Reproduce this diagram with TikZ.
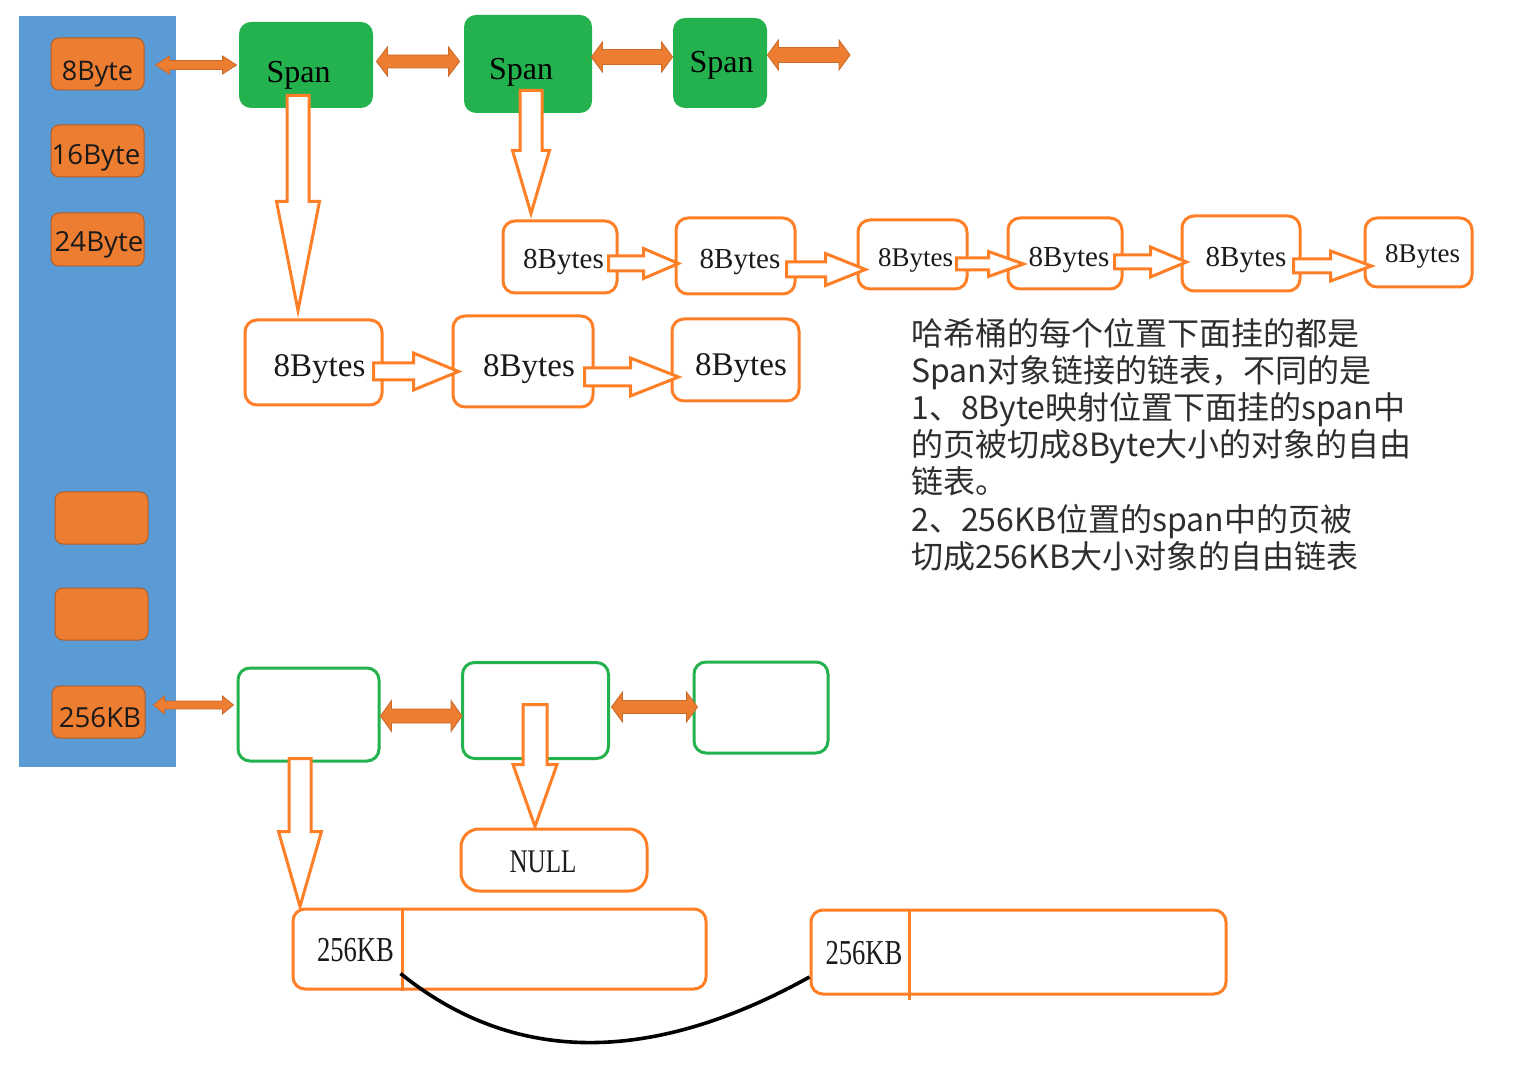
\documentclass[tikz,border=0pt]{standalone}
\usepackage{fontspec}
\setmainfont{Liberation Serif}
\newfontfamily\cjk{Noto Sans CJK SC}
\newfontfamily\keyfont{Open Sans}
\newfontfamily\condserif[FakeStretch=0.76]{Liberation Serif}
\usetikzlibrary{calc}
\newcommand\fsz[1]{\fontsize{#1}{#1}\selectfont}
\definecolor{hblue}{HTML}{5B9BD5}
\definecolor{korange}{HTML}{ED7D31}
\definecolor{lorange}{HTML}{FF7F27}
\definecolor{sgreen}{HTML}{24B24E}
\definecolor{ink}{HTML}{1A1A1A}
\definecolor{para}{HTML}{2E2E2E}
\tikzset{
  keybox/.style={fill=korange, draw=korange!75!black, line width=0.5pt, rounded corners=4pt, minimum width=46.5pt, minimum height=26pt, inner sep=0pt},
  spanbox/.style={fill=sgreen, rounded corners=6pt, inner sep=0pt},
  objbox/.style={draw=lorange, line width=1.5pt, rounded corners=6pt, fill=white, inner sep=0pt},
  gbox/.style={draw=sgreen, line width=1.5pt, rounded corners=6pt, fill=white, inner sep=0pt},
  blk/.style={draw=lorange, line width=1.5pt, fill=white, line join=miter},
  dbl/.style={fill=korange, draw=korange!85!black, line width=0.4pt},
  divline/.style={draw=lorange, line width=1.2pt},
  lbl/.style={inner sep=0pt, anchor=base},
  paraline/.style={inner sep=0pt, anchor=base west, text=para, font=\cjk\fsz{16pt}},
}
% hollow horizontal block arrow
\newcommand\harr[7]{%
  \coordinate (hS) at ($(#1)+#2$);
  \coordinate (hT) at ($(#3 |- hS)+(#4,0)$);
  \draw[blk] ($(hS)+(0,-#5)$) -- ($(hT)+(-#7,-#5)$) -- ($(hT)+(-#7,-#6)$) -- (hT)
    -- ($(hT)+(-#7,#6)$) -- ($(hT)+(-#7,#5)$) -- ($(hS)+(0,#5)$) -- cycle;}
% hollow vertical block arrow
\newcommand\varr[7]{%
  \coordinate (vS) at ($(#1)+#2$);
  \coordinate (vT) at ($(vS |- #3)+(0,#4)$);
  \draw[blk] ($(vS)+(-#5,0)$) -- ($(vT)+(-#5,-#7)$) -- ($(vT)+(-#6,-#7)$) -- (vT)
    -- ($(vT)+(#6,-#7)$) -- ($(vT)+(#5,-#7)$) -- ($(vS)+(#5,0)$) -- cycle;}
% filled double-headed arrow
\newcommand\darr[6]{%
  \coordinate (dA) at ($#1$);
  \coordinate (dB) at ($(#2 |- dA)+(#3,0)$);
  \draw[dbl] (dA) -- ($(dA)+(#6,-#5)$) -- ($(dA)+(#6,-#4)$) -- ($(dB)+(-#6,-#4)$)
    -- ($(dB)+(-#6,-#5)$) -- (dB) -- ($(dB)+(-#6,#5)$) -- ($(dB)+(-#6,#4)$)
    -- ($(dA)+(#6,#4)$) -- ($(dA)+(#6,#5)$) -- cycle;}
\begin{document}
\begin{tikzpicture}[x=0.5pt,y=-0.5pt]
\useasboundingbox (0,0) rectangle (1521,1069);
\fill[white] (0,0) rectangle (1521,1069);

% hash bucket column
\node[fill=hblue, minimum width=78.5pt, minimum height=375.5pt, inner sep=0pt] (hash) at (97.5,391.5) {};
\node[keybox] (k8) at (97.5,64) {};
\node[keybox] (k16) at (97.5,151) {};
\node[keybox, minimum height=26.5pt] (k24) at (97.5,239.5) {};
\node[keybox] (e1) at (101.5,518) {};
\node[keybox] (e2) at (101.5,614) {};
\node[keybox] (k256) at (98.5,712) {};

% span nodes
\node[spanbox, minimum width=67pt, minimum height=43pt] (sp1) at (306,65) {};
\node[spanbox, minimum width=64pt, minimum height=49pt] (sp2) at (528,64) {};
\node[spanbox, minimum width=47pt, minimum height=45pt] (sp3) at (720,63) {};
\coordinate (free) at (850,55);

% row 1 objects
\node[objbox, minimum width=57pt, minimum height=36pt] (r1a) at (560,257) {};
\node[objbox, minimum width=59.5pt, minimum height=38pt] (r1b) at (735.5,256) {};
\node[objbox, minimum width=54.5pt, minimum height=34.5pt] (r1c) at (912.5,254.5) {};
\node[objbox, minimum width=57pt, minimum height=35.5pt] (r1d) at (1065,253.5) {};
\node[objbox, minimum width=59pt, minimum height=37.5pt] (r1e) at (1241,253.5) {};
\node[objbox, minimum width=53.5pt, minimum height=34.5pt] (r1f) at (1418.5,252.5) {};

% row 2 objects
\node[objbox, minimum width=68.5pt, minimum height=42.5pt] (r2a) at (313.5,362.5) {};
\node[objbox, minimum width=70pt, minimum height=45.5pt] (r2b) at (523,361.5) {};
\node[objbox, minimum width=63.5pt, minimum height=41pt] (r2c) at (735.5,360) {};

% 256KB spans
\node[gbox, minimum width=70.5pt, minimum height=46.5pt] (g1) at (308.5,714.5) {};
\node[gbox, minimum width=73pt, minimum height=48pt] (g2) at (535.5,710.5) {};
\node[gbox, minimum width=67pt, minimum height=45.5pt] (g3) at (761,707.5) {};

\node[objbox, rounded corners=9pt, minimum width=93pt, minimum height=31pt] (null) at (554,860) {};

\node[objbox, minimum width=206.5pt, minimum height=40pt] (b1) at (499.5,949) {};
\node[objbox, minimum width=207.5pt, minimum height=42pt] (b2) at (1018.5,952) {};
\draw[divline] ($(b1.north west)+(111,0)$) -- ($(b1.south west)+(111,0)$);
\draw[divline] ($(b2.north west)+(100,0)$) -- ($(b2.south west)+(100,4)$);
\coordinate (cs) at ($(b1.south west)+(109,-17)$);
\coordinate (ce) at ($(b2.west)+(0,25)$);
\draw[black, line width=1.8pt] (cs) .. controls (520,1070) and (660,1060) .. (ce);

% double arrows
\darr{(k8.east)+(11,1)}{sp1.west}{-2}{4.5}{9}{14}
\darr{(sp1.east)+(3,-3.5)}{sp2.west}{-4}{6.5}{14.5}{11}
\darr{(sp2.east)+(-1,-7)}{sp3.west}{0}{7.5}{15}{11}
\darr{(sp3.east)+(0,-8)}{free}{0}{7.5}{15}{11}
\darr{(k256.east)+(8,-7)}{g1.west}{-3}{4}{9}{11}
\darr{(g1.east)+(0,1.5)}{g2.west}{1}{7}{15.5}{11}
\darr{(g2.east)+(1.5,-3.5)}{g3.west}{5}{6.5}{15}{11}

% hollow arrows row 1
\harr{r1a.east}{(-10,6.5)}{r1b.west}{4}{7.5}{15}{35}
\harr{r1b.east}{(-10,13.5)}{r1c.west}{9}{7.5}{16}{40}
\harr{r1c.east}{(-12,9.5)}{r1d.west}{17}{6}{12.5}{35}
\harr{r1d.east}{(-9,8.5)}{r1e.west}{6}{7}{15}{36}
\harr{r1e.east}{(-8,12.5)}{r1f.west}{8}{7}{15}{41}
% row 2
\harr{r2a.east}{(-10,9)}{r2b.west}{7}{8.5}{18.5}{45}
\harr{r2b.east}{(-10,15.5)}{r2c.west}{8}{9}{19}{48}
% vertical
\varr{sp1.south}{(-8,-13)}{r2a.north}{-8}{11}{21.5}{109}
\varr{sp2.south}{(3,-23)}{r1a.north}{-6}{11}{18.5}{63}
\varr{g1.south}{(-8.5,-4)}{b1.north}{-1}{11}{21.5}{75}
\varr{g2.south}{(-0.5,-55.5)}{null.north}{-1}{12}{22}{62}

% labels
\node[lbl, text=ink] (t8) at (97.5,81) {\keyfont\fsz{13.5pt}8Byte};
\node[lbl, text=ink] (t16) at (96,165) {\keyfont\fsz{13.8pt}16Byte};
\node[lbl, text=ink] (t24) at (99,252) {\keyfont\fsz{13.8pt}24Byte};
\node[lbl, text=ink] (t256) at (100,727) {\keyfont\fsz{13.8pt}256KB};

\node[lbl] (ts1) at (298.5,83) {\fsz{16pt}Span};
\node[lbl] (ts2) at (521,80) {\fsz{16pt}Span};
\node[lbl] (ts3) at (721.5,73) {\fsz{16pt}Span};

\node[lbl, text=ink] (ta) at (563.5,269) {\fsz{14.5pt}8Bytes};
\node[lbl, text=ink] (tb) at (740,269) {\fsz{14.5pt}8Bytes};
\node[lbl, text=ink] (tc) at (915.5,267) {\fsz{13.5pt}8Bytes};
\node[lbl, text=ink] (td) at (1069,267) {\fsz{14.5pt}8Bytes};
\node[lbl, text=ink] (te) at (1246,267) {\fsz{14.5pt}8Bytes};
\node[lbl, text=ink] (tf) at (1422.5,263) {\fsz{13.5pt}8Bytes};

\node[lbl, text=ink] (ua) at (319.5,377) {\fsz{16.5pt}8Bytes};
\node[lbl, text=ink] (ub) at (529,377) {\fsz{16.5pt}8Bytes};
\node[lbl, text=ink] (uc) at (741,376) {\fsz{16.5pt}8Bytes};

\node[lbl, text=ink] (tnull) at (543,872) {\condserif\fsz{16.5pt}NULL};
\node[lbl, text=ink] (tb1) at (355.5,961) {\condserif\fsz{17.5pt}256KB};
\node[lbl, text=ink] (tb2) at (864,964) {\condserif\fsz{17.5pt}256KB};

% description
\node[paraline] (p1) at (911,346) {哈希桶的每个位置下面挂的都是};
\node[paraline] (p2) at (911,383) {Span对象链接的链表，不同的是};
\node[paraline] (p3) at (911,420) {1、8Byte映射位置下面挂的span中};
\node[paraline] (p4) at (911,457) {的页被切成8Byte大小的对象的自由};
\node[paraline] (p5) at (911,494) {链表。};
\node[paraline] (p6) at (911,531) {2、256KB位置的span中的页被};
\node[paraline] (p7) at (911,568) {切成256KB大小对象的自由链表};
\end{tikzpicture}
\end{document}
